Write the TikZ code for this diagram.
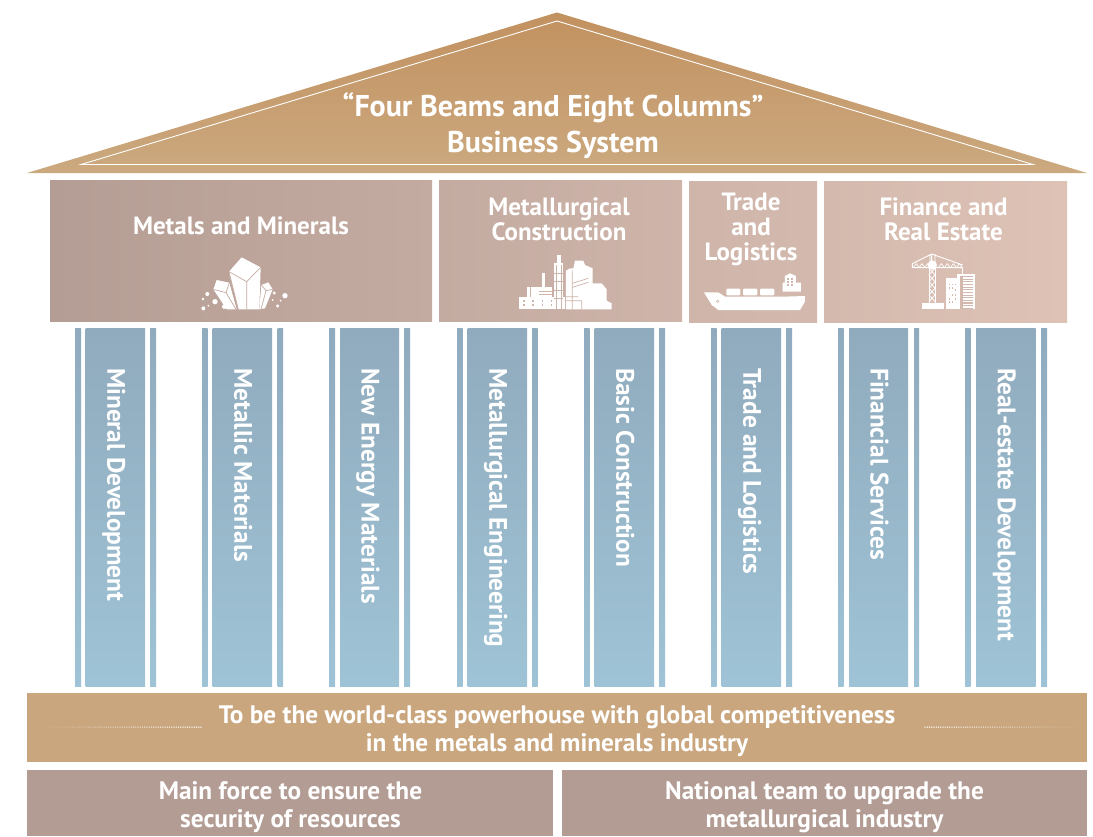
\documentclass[tikz,border=0pt]{standalone}
\usepackage{fontspec}
\setmainfont{PT Sans}
\definecolor{roofT}{HTML}{C29160}
\definecolor{roofB}{HTML}{CBA97F}
\definecolor{bannerC}{HTML}{C9A67D}
\definecolor{baseC}{HTML}{B39C94}
\definecolor{beamL}{HTML}{B49D94}
\definecolor{beamR}{HTML}{DEC2B6}
\definecolor{colT}{HTML}{90ABBD}
\definecolor{colB}{HTML}{9FC3D6}
\colorlet{beamA}{beamR!37.5!beamL}
\colorlet{beamB}{beamR!38!beamL}
\colorlet{beamC}{beamR!62!beamL}
\colorlet{beamD}{beamR!63!beamL}
\colorlet{beamE}{beamR!75!beamL}
\colorlet{beamF}{beamR!76!beamL}
\tikzset{
  lbl/.style 2 args={text=white,font=\bfseries\fontsize{#1}{#2}\selectfont,align=center,inner sep=0pt},
  coltext/.style={text=white,font=\bfseries\fontsize{25.3}{27}\selectfont,inner sep=0pt,rotate=-90,anchor=base west},
  pillar/.style={top color=colT,bottom color=colB},
  icon/.style={fill=white,draw=none},
}
\newcommand{\pillarbar}[8]{%
  \path[pillar] (#2,328) rectangle (#3,686);
  \path[pillar] (#4,328) rectangle (#5,686);
  \path[pillar] (#6,328) rectangle (#7,686);
  \node[coltext] (#1) at ({(#4+#5)/2-8},368) {#8};
}
\begin{document}
\begin{tikzpicture}[x=1pt,y=-1pt]
\useasboundingbox (0,0) rectangle (1093,836);
% roof
\path[top color=roofT,bottom color=roofB] (557,12.5) -- (1087,173) -- (27,173) -- cycle;
\draw[white,line width=.9pt,line join=miter] (557,21) -- (1033,164.5) -- (81,164.5) -- cycle;
\node[lbl={30}{36}] (roof) at (553,125.5) {“Four Beams and Eight Columns”\\Business System};
% beams
\path[left color=beamL,right color=beamA] (50,180) rectangle (432,321);
\path[left color=beamB,right color=beamC] (439,180) rectangle (682,321);
\path[left color=beamD,right color=beamE] (689,181) rectangle (817,322);
\path[left color=beamF,right color=beamR] (824,181) rectangle (1067,322);
\node[lbl={25}{25}] (metals) at (241,226) {Metals and Minerals};
\node[lbl={25}{25}] (constr) at (559,219.5) {Metallurgical\\Construction};
\node[lbl={25}{25}] (trade) at (751,229) {Trade\\and\\Logistics};
\node[lbl={25}{25}] (finance) at (943.5,219.5) {Finance and\\Real Estate};
% crystal icon
\begin{scope}[shift={(190,250)},scale=.3333]
  \fill[icon] (117,65) -- (155,22) -- (212,52) -- (208,178) -- (145,178) -- cycle;
  \draw[beamL!60!beamR,line width=.7pt] (117,65) -- (170,95) -- (212,52) (170,95) -- (170,178);
  \fill[icon] (70,118) -- (80,90) -- (118,98) -- (140,178) -- (110,178) -- cycle;
  \draw[beamL!60!beamR,line width=.7pt] (70,118) -- (108,128) -- (118,98) (108,128) -- (138,178) (145,178) -- (117,65);
  \fill[icon] (214,105) -- (235,97) -- (248,118) -- (225,175) -- (208,178) -- cycle;
  \draw[beamL!60!beamR,line width=.7pt] (214,105) -- (228,122) -- (248,118) (228,122) -- (213,178);
  \foreach \a/\b/\r in {39/147/4,40/175/6,52/132/6,55/167/3,75/155/8,103/170/7,253/129/5,248/150/3,263/168/5,272/152/3,285/137/8}{
    \fill[icon] (\a,\b) circle[radius=\r];
  }
\end{scope}
% factory icon
\begin{scope}[shift={(510,250)},scale=.3333]
  \fill[icon] (28,140) rectangle (165,178);
  \fill[icon] (50,112) rectangle (125,140);
  \fill[icon] (97,70) rectangle (104,115);
  \fill[icon] (140,15) rectangle (153,45);
  \fill[icon] (133,40) rectangle (160,178);
  \fill[icon] (168,178) -- (168,62) -- (180,55) -- (190,55) -- (195,32) -- (220,32) -- (225,45) -- (248,55) -- (248,100) -- (275,100) -- (290,118) -- (290,152) -- (305,160) -- (305,178) -- cycle;
  \draw[beamC,line width=.7pt] (187,62) -- (187,178) (187,100) -- (235,85) (187,112) -- (235,97) (165,140) -- (205,140) (165,152) -- (215,152) -- (215,178);
  \draw[beamC,line width=.6pt] (138,45) -- (138,178) (155,45) -- (155,178) (133,70) -- (160,70) (133,95) -- (160,95) (133,120) -- (160,120) (133,145) -- (160,145) (88,125) -- (125,125) (88,132) -- (125,132) (60,112) -- (60,140);
  \foreach \a in {42,69,97,124}{\foreach \b in {152,166}{
    \fill[beamC] (\a-2.5,\b-3.5) rectangle (\a+2.5,\b+3.5);}}
\end{scope}
% ship icon
\begin{scope}[shift={(695,260)},scale=.3333]
  \fill[icon] (27,97) -- (70,97) -- (90,110) -- (265,110) -- (330,108) -- (330,125) -- (315,150) -- (70,150) -- (50,135) -- cycle;
  \fill[icon,rounded corners=1pt] (94,86) rectangle (136,106);
  \fill[icon,rounded corners=1pt] (144,86) rectangle (187,106);
  \fill[icon,rounded corners=1pt] (195,86) rectangle (238,106);
  \fill[icon] (263,95) -- (263,68) -- (270,68) -- (270,48) -- (285,40) -- (303,48) -- (303,68) -- (318,68) -- (318,95) -- cycle;
  \foreach \a in {279,291}{\foreach \b in {56,66,76}{
    \fill[beamE] (\a-2.5,\b-3) rectangle (\a+2.5,\b+3);}}
  \draw[beamE,line width=.5pt] (68,124) circle[radius=4];
\end{scope}
% crane icon
\begin{scope}[shift={(900,245)},scale=.3333]
  \fill[icon] (65,175) rectangle (132,192);
  \draw[white,line width=.9pt] (87,70) -- (87,175) (105,70) -- (105,175);
  \foreach \b in {70,90,110,130,150}{\draw[white,line width=.8pt] (87,\b) -- (105,\b+20) (105,\b) -- (87,\b+20);}
  \draw[white,line width=.9pt] (37,56) -- (95,27) -- (188,60) (37,68) -- (188,68) (37,56) -- (37,68) (95,27) -- (95,50) (90,27) -- (90,50) (105,27) -- (105,50);
  \foreach \a in {40,57,74,115,133,151,169}{\draw[white,line width=.7pt] (\a,68) -- (\a+9,56) -- (\a+18,68);}
  \fill[icon] (97,60) circle[radius=14];
  \draw[white,line width=.7pt] (188,68) -- (188,88);
  \fill[icon] (172,88) rectangle (225,192);
  \fill[beamE] (180,92) rectangle (219,192);
  \foreach \b in {96,104,...,186}{\fill[icon] (188,\b) rectangle (219,\b+4.5);}
  \fill[icon] (138,100) rectangle (180,192);
  \foreach \a/\b in {148/118,157/118,166/118,148/128,157/128,166/150,157/150,148/162,166/162,157/172,148/172,166/135}{
    \fill[beamE] (\a-2.5,\b-2.5) rectangle (\a+2.5,\b+2.5);}
\end{scope}
% pillars
\pillarbar{p1}{75}{81}{85.5}{145}{150}{156}{Mineral Development}
\pillarbar{p2}{202}{207.5}{212.5}{272}{277.5}{283}{Metallic Materials}
\pillarbar{p3}{329}{335}{340}{399}{404}{410}{New Energy Materials}
\pillarbar{p4}{457}{462.5}{467.5}{527}{532}{537.5}{Metallurgical Engineering}
\pillarbar{p5}{584}{589.5}{594.5}{654}{659}{665}{Basic Construction}
\pillarbar{p6}{711}{716.5}{721.5}{781}{786}{792}{Trade and Logistics}
\pillarbar{p7}{838}{843.5}{849}{908}{914}{919}{Financial Services}
\pillarbar{p8}{965}{970.5}{976}{1035.5}{1041}{1047}{Real-estate Development}
% banner
\fill[bannerC] (27,693) rectangle (1087,762);
\node[lbl={25.3}{28}] (goal) at (557,731) {To be the world-class powerhouse with global competitiveness\\in the metals and minerals industry};
\foreach \i in {0,...,70}{
  \pgfmathsetmacro{\op}{1-\i/72}
  \fill[white,opacity=\op] (201-\i*2.25,727) circle[radius=.75];
  \fill[white,opacity=\op] (925+\i*2.25,727) circle[radius=.75];
}
% foundation
\fill[baseC] (27,770) rectangle (553,836);
\fill[baseC] (562,770) rectangle (1087,836);
\node[lbl={25.3}{28}] (left) at (290.5,807) {Main force to ensure the\\security of resources};
\node[lbl={25.3}{28}] (right) at (824.5,807) {National team to upgrade the\\metallurgical industry};
\end{tikzpicture}
\end{document}
